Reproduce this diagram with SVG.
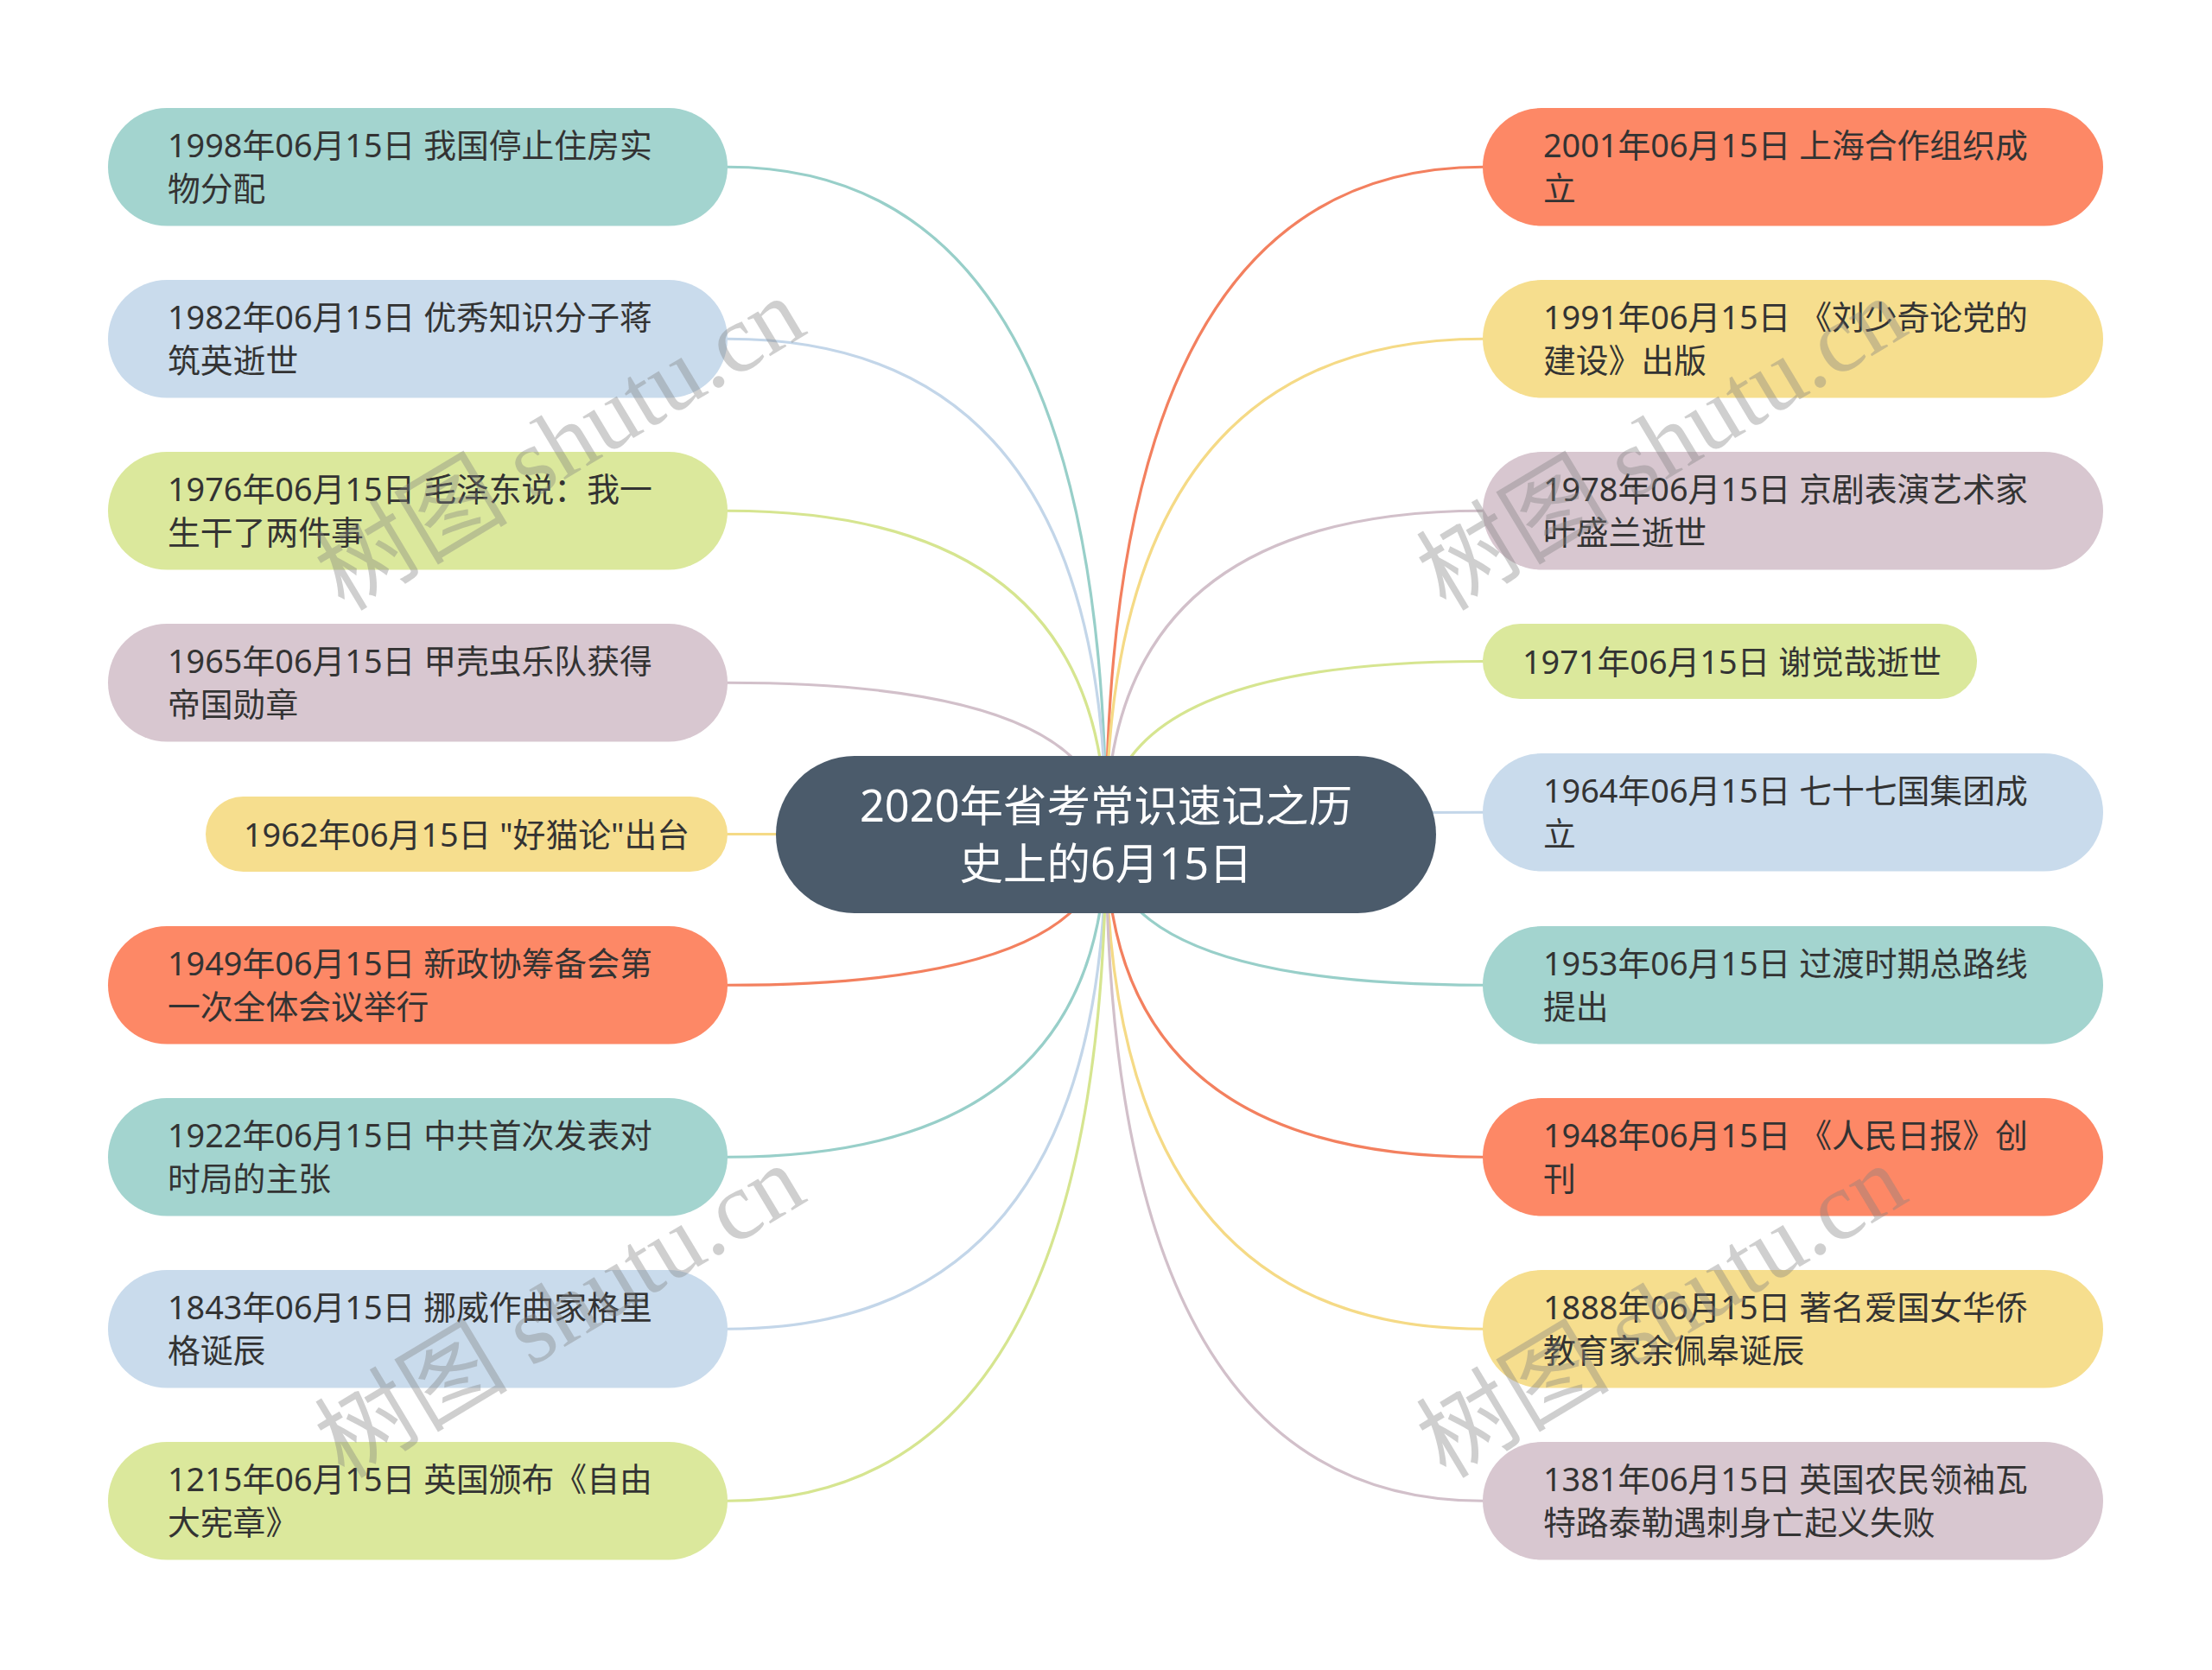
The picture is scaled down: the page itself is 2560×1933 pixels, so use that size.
<svg xmlns="http://www.w3.org/2000/svg" width="2560" height="1933" viewBox="0 0 2560 1933">
<style>
.bg{fill:#ffffff}
.t{font-family:"Noto Sans","Noto Sans CJK SC",sans-serif;font-size:37.8px;fill:#333333}
.ct{font-family:"Noto Sans","Noto Sans CJK SC",sans-serif;font-size:50.5px;fill:#ffffff;text-anchor:middle}
.teal{fill:#a3d4cf}.blue{fill:#c9dbec}.green{fill:#dbe89c}.mauve{fill:#d8c7d0}.yellow{fill:#f6de8e}.coral{fill:#fd8866}
.c{fill:none;stroke-width:3.2;stroke-linecap:round}
.lteal{stroke:#98cfc9}.lblue{stroke:#c3d6e9}.lgreen{stroke:#d6e590}.lmauve{stroke:#d2c0ca}.lyellow{stroke:#f5da86}.lcoral{stroke:#f3805f}
.wm{font-family:"Liberation Serif","Noto Sans CJK SC",serif;font-size:112px;fill:#808080;fill-opacity:0.38;text-anchor:middle}
</style>
<rect class="bg" x="0" y="0" width="2560" height="1933"/>
<g id="connectors">
<path class="c lteal" d="M842 193.25 Q1280 193.25 1280 966"/>
<path class="c lblue" d="M842 392.25 Q1280 392.25 1280 966"/>
<path class="c lgreen" d="M842 591.25 Q1280 591.25 1280 966"/>
<path class="c lmauve" d="M842 790.25 Q1280 790.25 1280 966"/>
<path class="c lyellow" d="M842 965.5 Q1280 965.5 1280 966"/>
<path class="c lcoral" d="M842 1140.25 Q1280 1140.25 1280 966"/>
<path class="c lteal" d="M842 1339.25 Q1280 1339.25 1280 966"/>
<path class="c lblue" d="M842 1538.25 Q1280 1538.25 1280 966"/>
<path class="c lgreen" d="M842 1737.25 Q1280 1737.25 1280 966"/>
<path class="c lcoral" d="M1716 193.25 Q1280 193.25 1280 966"/>
<path class="c lyellow" d="M1716 392.25 Q1280 392.25 1280 966"/>
<path class="c lmauve" d="M1716 591.25 Q1280 591.25 1280 966"/>
<path class="c lgreen" d="M1716 765.5 Q1280 765.5 1280 966"/>
<path class="c lblue" d="M1716 940.25 Q1280 940.25 1280 966"/>
<path class="c lteal" d="M1716 1140.25 Q1280 1140.25 1280 966"/>
<path class="c lcoral" d="M1716 1339.25 Q1280 1339.25 1280 966"/>
<path class="c lyellow" d="M1716 1538.25 Q1280 1538.25 1280 966"/>
<path class="c lmauve" d="M1716 1737.25 Q1280 1737.25 1280 966"/>
</g>
<g id="center">
<rect x="898" y="875" width="764" height="182" rx="91" fill="#4b5b6b"/>
<text class="ct" x="1280" y="951">2020年省考常识速记之历</text>
<text class="ct" x="1280" y="1018">史上的6月15日</text>
</g>
<g id="n1998"><rect class="teal" x="125" y="125" width="717" height="136.5" rx="68.25"/><text class="t" x="194" y="182">1998年06月15日 我国停止住房实</text><text class="t" x="194" y="232">物分配</text></g>
<g id="n1982"><rect class="blue" x="125" y="324" width="717" height="136.5" rx="68.25"/><text class="t" x="194" y="381">1982年06月15日 优秀知识分子蒋</text><text class="t" x="194" y="431">筑英逝世</text></g>
<g id="n1976"><rect class="green" x="125" y="523" width="717" height="136.5" rx="68.25"/><text class="t" x="194" y="580">1976年06月15日 毛泽东说：我一</text><text class="t" x="194" y="630">生干了两件事</text></g>
<g id="n1965"><rect class="mauve" x="125" y="722" width="717" height="136.5" rx="68.25"/><text class="t" x="194" y="779">1965年06月15日 甲壳虫乐队获得</text><text class="t" x="194" y="829">帝国勋章</text></g>
<g id="n1962"><rect class="yellow" x="238" y="922" width="604" height="87" rx="43.5"/><text class="t" x="282" y="979.5">1962年06月15日 "好猫论"出台</text></g>
<g id="n1949"><rect class="coral" x="125" y="1072" width="717" height="136.5" rx="68.25"/><text class="t" x="194" y="1129">1949年06月15日 新政协筹备会第</text><text class="t" x="194" y="1179">一次全体会议举行</text></g>
<g id="n1922"><rect class="teal" x="125" y="1271" width="717" height="136.5" rx="68.25"/><text class="t" x="194" y="1328">1922年06月15日 中共首次发表对</text><text class="t" x="194" y="1378">时局的主张</text></g>
<g id="n1843"><rect class="blue" x="125" y="1470" width="717" height="136.5" rx="68.25"/><text class="t" x="194" y="1527">1843年06月15日 挪威作曲家格里</text><text class="t" x="194" y="1577">格诞辰</text></g>
<g id="n1215"><rect class="green" x="125" y="1669" width="717" height="136.5" rx="68.25"/><text class="t" x="194" y="1726">1215年06月15日 英国颁布《自由</text><text class="t" x="194" y="1776">大宪章》</text></g>
<g id="n2001"><rect class="coral" x="1716" y="125" width="718" height="136.5" rx="68.25"/><text class="t" x="1786" y="182">2001年06月15日 上海合作组织成</text><text class="t" x="1786" y="232">立</text></g>
<g id="n1991"><rect class="yellow" x="1716" y="324" width="718" height="136.5" rx="68.25"/><text class="t" x="1786" y="381">1991年06月15日 《刘少奇论党的</text><text class="t" x="1786" y="431">建设》出版</text></g>
<g id="n1978"><rect class="mauve" x="1716" y="523" width="718" height="136.5" rx="68.25"/><text class="t" x="1786" y="580">1978年06月15日 京剧表演艺术家</text><text class="t" x="1786" y="630">叶盛兰逝世</text></g>
<g id="n1971"><rect class="green" x="1716" y="722" width="572" height="87" rx="43.5"/><text class="t" x="1762" y="779.5">1971年06月15日 谢觉哉逝世</text></g>
<g id="n1964"><rect class="blue" x="1716" y="872" width="718" height="136.5" rx="68.25"/><text class="t" x="1786" y="929">1964年06月15日 七十七国集团成</text><text class="t" x="1786" y="979">立</text></g>
<g id="n1953"><rect class="teal" x="1716" y="1072" width="718" height="136.5" rx="68.25"/><text class="t" x="1786" y="1129">1953年06月15日 过渡时期总路线</text><text class="t" x="1786" y="1179">提出</text></g>
<g id="n1948"><rect class="coral" x="1716" y="1271" width="718" height="136.5" rx="68.25"/><text class="t" x="1786" y="1328">1948年06月15日 《人民日报》创</text><text class="t" x="1786" y="1378">刊</text></g>
<g id="n1888"><rect class="yellow" x="1716" y="1470" width="718" height="136.5" rx="68.25"/><text class="t" x="1786" y="1527">1888年06月15日 著名爱国女华侨</text><text class="t" x="1786" y="1577">教育家余佩皋诞辰</text></g>
<g id="n1381"><rect class="mauve" x="1716" y="1669" width="718" height="136.5" rx="68.25"/><text class="t" x="1786" y="1726">1381年06月15日 英国农民领袖瓦</text><text class="t" x="1786" y="1776">特路泰勒遇刺身亡起义失败</text></g>
<g id="watermarks">
<text class="wm" transform="translate(648,514) rotate(-31)" dominant-baseline="central">树图 shutu.cn</text>
<text class="wm" transform="translate(1923,514) rotate(-31)" dominant-baseline="central">树图 shutu.cn</text>
<text class="wm" transform="translate(648,1518) rotate(-31)" dominant-baseline="central">树图 shutu.cn</text>
<text class="wm" transform="translate(1923,1518) rotate(-31)" dominant-baseline="central">树图 shutu.cn</text>
</g>
</svg>
